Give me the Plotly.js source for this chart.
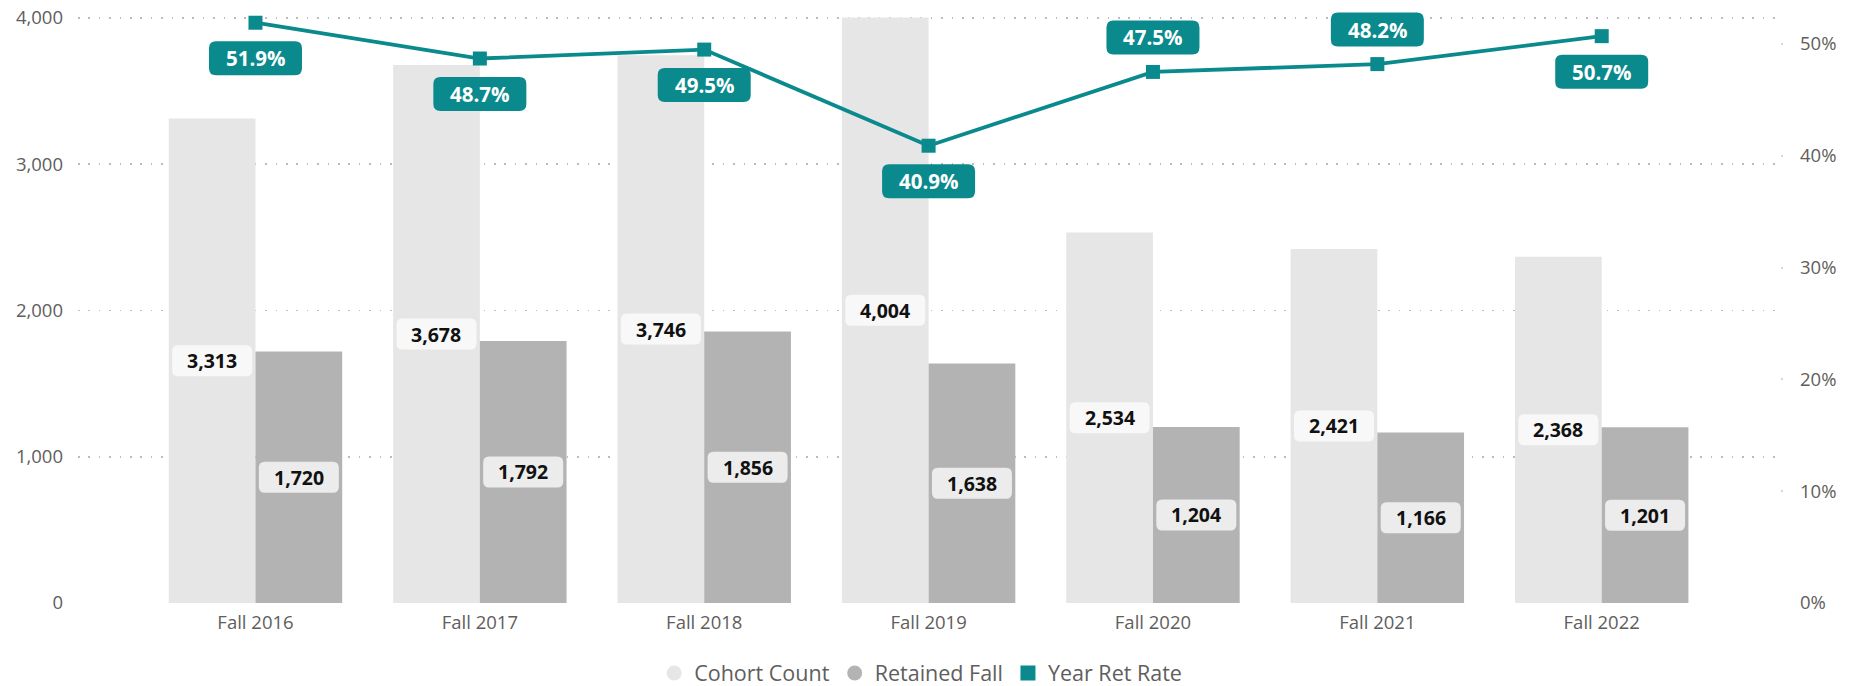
<!DOCTYPE html>
<html>
<head>
<meta charset="utf-8">
<script src="https://cdn.plot.ly/plotly-3.0.1.min.js"></script>
<style>
  html, body { margin: 0; padding: 0; background: #ffffff; }
  #chart { width: 1860px; height: 686px; }
</style>
</head>
<body>
<div id="chart"></div>
<script>
// ---- data ----
const categories = ['Fall 2016', 'Fall 2017', 'Fall 2018', 'Fall 2019', 'Fall 2020', 'Fall 2021', 'Fall 2022'];
const cohortCount = [3313, 3678, 3746, 4004, 2534, 2421, 2368];
const retainedFall = [1720, 1792, 1856, 1638, 1204, 1166, 1201];
const yearRetRate = [51.9, 48.7, 49.5, 40.9, 47.5, 48.2, 50.7];
const rateLabelSide = ['below', 'below', 'below', 'below', 'above', 'above', 'below'];
const leftTicks = [0, 1000, 2000, 3000, 4000];
const rightTicks = [0, 10, 20, 30, 40, 50];

// ---- style ----
const FONT = '"Segoe UI", "Open Sans", sans-serif';
const TEAL = '#0a8a8d';
const COHORT_COLOR = '#e6e6e6';
const RETAINED_COLOR = '#b3b3b3';
const BARGAP = 0.227;
const barOffset = (1 - BARGAP) / 4;   // half of one bar width, in category units

function rectPath(w, h, r, dy) {
  const x0 = -w / 2, x1 = w / 2, y0 = dy - h / 2, y1 = dy + h / 2;
  return `M ${x0 + r},${y0} L ${x1 - r},${y0} Q ${x1},${y0} ${x1},${y0 + r} ` +
         `L ${x1},${y1 - r} Q ${x1},${y1} ${x1 - r},${y1} L ${x0 + r},${y1} ` +
         `Q ${x0},${y1} ${x0},${y1 - r} L ${x0},${y0 + r} Q ${x0},${y0} ${x0 + r},${y0} Z`;
}
const fmt = v => v.toLocaleString('en-US');

const idx = categories.map((c, i) => i);

const traces = [
  { type: 'bar', name: 'Cohort Count', x: idx, y: cohortCount,
    marker: { color: COHORT_COLOR }, showlegend: false, hoverinfo: 'skip', yaxis: 'y' },
  { type: 'bar', name: 'Retained Fall', x: idx, y: retainedFall,
    marker: { color: RETAINED_COLOR }, showlegend: false, hoverinfo: 'skip', yaxis: 'y' },
  { type: 'scatter', mode: 'lines+markers', name: 'Year Ret Rate', x: idx, y: yearRetRate,
    yaxis: 'y2', line: { color: TEAL, width: 3.8 },
    marker: { symbol: 'square', size: 14, color: TEAL }, showlegend: false, hoverinfo: 'skip' },
  // legend entries
  { type: 'scatter', mode: 'markers', name: 'Cohort Count', x: [null], y: [null],
    marker: { symbol: 'circle', size: 15, color: COHORT_COLOR } },
  { type: 'scatter', mode: 'markers', name: 'Retained Fall', x: [null], y: [null],
    marker: { symbol: 'circle', size: 15, color: RETAINED_COLOR } },
  { type: 'scatter', mode: 'markers', name: 'Year Ret Rate', x: [null], y: [null],
    marker: { symbol: 'square', size: 15, color: TEAL } }
];

const shapes = [];
const annotations = [];

categories.forEach((c, i) => {
  // cohort label
  shapes.push({ type: 'path', xref: 'x', yref: 'y', xsizemode: 'pixel', ysizemode: 'pixel',
    xanchor: i - barOffset, yanchor: cohortCount[i] / 2,
    path: rectPath(80, 31, 6, 0), fillcolor: '#f8f8f8', line: { width: 0 }, layer: 'above' });
  annotations.push({ xref: 'x', yref: 'y', x: i - barOffset, y: cohortCount[i] / 2,
    text: fmt(cohortCount[i]), showarrow: false,
    font: { family: FONT, size: 19.5, color: '#111111', weight: 700 } });
  // retained label
  shapes.push({ type: 'path', xref: 'x', yref: 'y', xsizemode: 'pixel', ysizemode: 'pixel',
    xanchor: i + barOffset, yanchor: retainedFall[i] / 2,
    path: rectPath(80, 31, 6, 0), fillcolor: '#ececec', line: { width: 0 }, layer: 'above' });
  annotations.push({ xref: 'x', yref: 'y', x: i + barOffset, y: retainedFall[i] / 2,
    text: fmt(retainedFall[i]), showarrow: false,
    font: { family: FONT, size: 19.5, color: '#111111', weight: 700 } });
  // rate label
  const dy = rateLabelSide[i] === 'above' ? 34.5 : -35.5;
  shapes.push({ type: 'path', xref: 'x', yref: 'y2', xsizemode: 'pixel', ysizemode: 'pixel',
    xanchor: i, yanchor: yearRetRate[i],
    path: rectPath(93, 34, 7, dy), fillcolor: TEAL, line: { width: 0 }, layer: 'above' });
  annotations.push({ xref: 'x', yref: 'y2', x: i, y: yearRetRate[i], yshift: dy,
    text: yearRetRate[i].toFixed(1) + '%', showarrow: false,
    font: { family: FONT, size: 20.5, color: '#ffffff', weight: 700 } });
});

const layout = {
  width: 1860, height: 686,
  margin: { l: 78, r: 77, t: 12, b: 83 },
  paper_bgcolor: '#ffffff', plot_bgcolor: '#ffffff',
  font: { family: FONT, color: '#605e5c', size: 18.5 },
  barmode: 'group', bargap: BARGAP, bargroupgap: 0,
  xaxis: {
    type: 'linear', range: [-0.791, 6.808],
    tickmode: 'array', tickvals: idx, ticktext: categories,
    showgrid: false, zeroline: false, showline: false, ticks: '',
    ticklabelstandoff: 6,
    tickfont: { family: FONT, size: 18.5, color: '#605e5c' }
  },
  yaxis: {
    range: [0, 4041], tickmode: 'array', tickvals: leftTicks,
    ticktext: leftTicks.map(fmt),
    showgrid: true, gridcolor: '#bcbcbc', gridwidth: 1.6, griddash: '1.6px,8.8px',
    zeroline: false, showline: false, ticks: '', ticklabelstandoff: 14,
    tickfont: { family: FONT, size: 18.5, color: '#605e5c' }
  },
  yaxis2: {
    overlaying: 'y', side: 'right', range: [0, 52.86],
    tickmode: 'array', tickvals: rightTicks, ticktext: rightTicks.map(v => v + '%'),
    showgrid: false, zeroline: false, showline: false,
    ticks: 'inside', ticklen: 2, tickwidth: 2, tickcolor: '#d6d6d6',
    ticklabelstandoff: 16,
    tickfont: { family: FONT, size: 18.5, color: '#605e5c' }
  },
  showlegend: true,
  legend: {
    orientation: 'h', xref: 'container', yref: 'container',
    x: 0.495, xanchor: 'center', y: 0.019, yanchor: 'middle',
    font: { family: FONT, size: 21.5, color: '#605e5c' },
    itemclick: false, itemdoubleclick: false, bgcolor: 'rgba(0,0,0,0)'
  },
  shapes: shapes,
  annotations: annotations
};

Plotly.newPlot('chart', traces, layout, { staticPlot: true, displayModeBar: false });
</script>
</body>
</html>
